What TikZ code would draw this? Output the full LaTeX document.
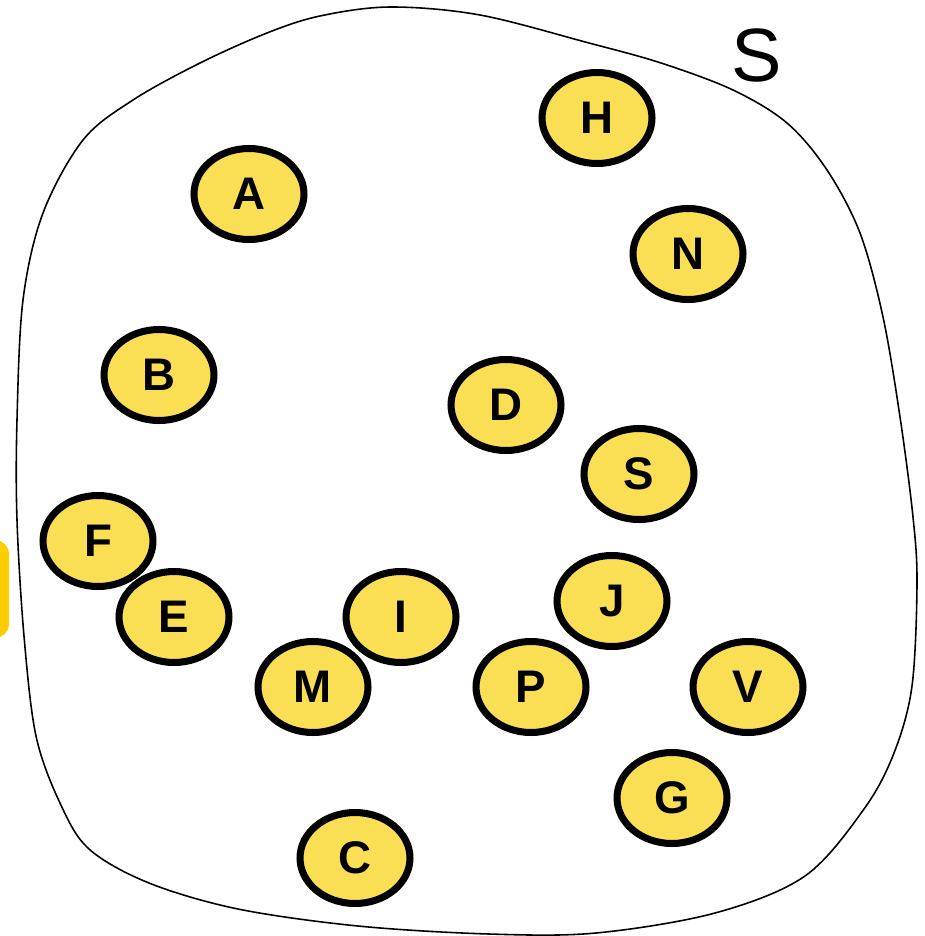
\documentclass[tikz,border=0pt]{standalone}
\usepackage{fontspec}
\setmainfont{Liberation Sans}
\usepackage{tikz}
\usetikzlibrary{shapes.geometric}

\definecolor{dotyellow}{RGB}{250,223,85}
\definecolor{tabyellow}{RGB}{255,204,0}

\begin{document}
\begin{tikzpicture}[x=0.02cm,y=-0.02cm,
	elem/.style={ellipse,draw=black,line width=4pt,fill=dotyellow,
		minimum width=2.2cm,minimum height=1.82cm,inner sep=0pt,
		font=\fontsize{26}{26}\selectfont\bfseries}]
	\useasboundingbox (0,0) rectangle (925,936);
	
	%yellow tab at the left edge
	\fill[tabyellow,rounded corners=8pt] (-20,540) rectangle (9,638);
	
	%the set S
	\draw[line width=0.9pt] plot[smooth cycle,tension=0.55] coordinates {
		(390,7) (480,15) (589,43) (661,63) (733,90) (787,123) (827,170)
		(860,233) (883,317) (900,417) (913,517) (917,583) (912,686)
		(894,753) (864,809) (805,876) (715,913) (596,933) (489,934)
		(358,926) (238,909) (149,883) (89,849) (60,803) (36,736)
		(24,636) (17,520) (17,420) (23,300) (43,213) (83,140)
		(133,100) (200,63) (267,33) (320,16)};
	\node[font=\fontsize{43}{43}\selectfont] (setname) at (757,55) {S};
	
	%elements
	\node[elem] (H) at (597,118) {H};
	\node[elem] (A) at (249,194) {A};
	\node[elem] (N) at (688,254) {N};
	\node[elem] (B) at (159,375) {B};
	\node[elem] (D) at (506,405) {D};
	\node[elem] (S) at (639,474) {S};
	\node[elem] (F) at (98,541)  {F};
	\node[elem] (E) at (174,617) {E};
	\node[elem] (I) at (401,617) {I};
	\node[elem] (J) at (612,601) {J};
	\node[elem] (M) at (313,687) {M};
	\node[elem] (P) at (531,687) {P};
	\node[elem] (V) at (748,687) {V};
	\node[elem] (G) at (672,798) {G};
	\node[elem] (C) at (355,858) {C};
\end{tikzpicture}
\end{document}
